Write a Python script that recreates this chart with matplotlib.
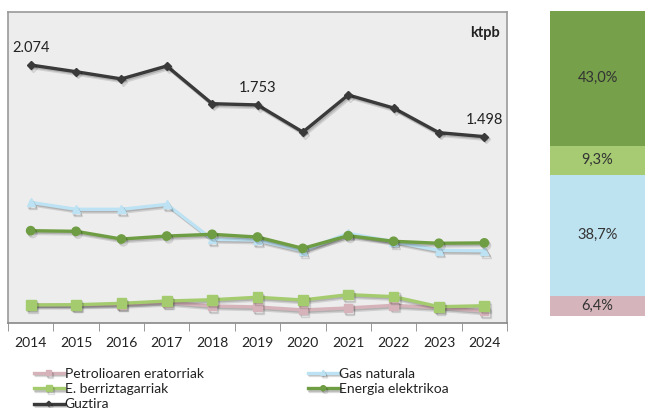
import numpy as np
import matplotlib
matplotlib.use("Agg")
import matplotlib.pyplot as plt
import matplotlib.patheffects as pe

plt.rcParams['font.family'] = ['Lato', 'DejaVu Sans']

years = [2014, 2015, 2016, 2017, 2018, 2019, 2020, 2021, 2022, 2023, 2024]
petrolio = [145, 145, 150, 166, 137, 129, 105, 121, 142, 123, 96]
gas = [970, 914, 914, 954, 673, 667, 581, 721, 654, 584, 580]
berriz = [145, 147, 158, 177, 187, 207, 185, 228, 212, 131, 139]
elektri = [742, 737, 675, 699, 713, 691, 600, 702, 657, 641, 644]
guztira = [2074, 2020, 1962, 2066, 1763, 1753, 1535, 1833, 1728, 1530, 1498]

names = ["Petrolioaren eratorriak", "Gas naturala", "E. berriztagarriak",
         "Energia elektrikoa", "Guztira"]
colors = ["#D6B3BA", "#BCE2F3", "#A4CC6E", "#6F9D43", "#3A3A3A"]
markers = ["s", "^", "s", "o", "D"]
msizes = [6, 6, 7, 6, 4]

# 2024 share (stacked bar)
share_labels = ["6,4%", "38,7%", "9,3%", "43,0%"]
share_vals = [6.4, 38.7, 9.3, 43.0]
share_colors = ["#D5B5BB", "#BDE2F0", "#A6CB72", "#76A04A"]

W, H = 645, 408
fig = plt.figure(figsize=(W / 100, H / 100), dpi=100)

ax = fig.add_axes([8 / W, (H - 323) / H, (507 - 8) / W, (323 - 12) / H])
ax.set_facecolor("#EDEDED")
x = np.arange(len(years))

# soft-ish drop shadow, two passes
shadow = [pe.SimpleLineShadow(offset=(1.5, -2), shadow_color="black", alpha=0.12),
          pe.SimpleLineShadow(offset=(0.8, -1), shadow_color="black", alpha=0.15),
          pe.Normal()]
series = [petrolio, gas, berriz, elektri, guztira]
handles = []
for s, name, c, m, ms in zip(series, names, colors, markers, msizes):
    h, = ax.plot(x, s, color=c, lw=2.4, marker=m, ms=ms, mec=c, label=name,
                 path_effects=shadow)
    handles.append(h)

ax.set_xlim(-0.5, len(years) - 0.5)
ax.set_ylim(0, 2500)
ax.set_yticks([])
ax.set_xticks(x)
ax.set_xticklabels([str(y) for y in years], fontsize=10, color="#222222")
ax.set_xticks(np.arange(-0.5, len(years), 1), minor=True)
ax.tick_params(axis="x", which="major", length=0, pad=10)
ax.tick_params(axis="x", which="minor", length=6, color="#888888", direction="out")
for sp in ["left", "top", "right"]:
    ax.spines[sp].set_color("#9A9A9A")
    ax.spines[sp].set_linewidth(1.2)
ax.spines["bottom"].set_color("#888888")
ax.spines["bottom"].set_linewidth(1.2)

# data labels on total
for i in [0, 5, 10]:
    ax.annotate(f"{guztira[i]:,}".replace(",", "."), (x[i], guztira[i]),
                xytext=(0, 7), textcoords="offset points", ha="center",
                va="bottom", fontsize=10.5, color="#222222")

ax.text(0.985, 0.955, "ktpb", transform=ax.transAxes, ha="right", va="top",
        fontsize=10.5, fontweight="bold", color="#222222")

order = [0, 2, 4, 1, 3]
leg = fig.legend([handles[i] for i in order], [names[i] for i in order],
                 loc="upper left", bbox_to_anchor=(28 / W, 1 - 362 / H), ncol=2,
                 frameon=False, fontsize=10, handlelength=2.2, handletextpad=0.05,
                 columnspacing=7.5, labelspacing=0.25, borderaxespad=0,
                 markerscale=0.6)
for t in leg.get_texts():
    t.set_color("#222222")

# stacked bar on the right
bx = fig.add_axes([550 / W, (H - 316) / H, (W - 550) / W, (316 - 11) / H])
bottom = 0
for v, lab, c in zip(share_vals, share_labels, share_colors):
    bx.bar(0, v, bottom=bottom, width=1, color=c, edgecolor="none")
    bx.text(0, bottom + v / 2, lab, ha="center", va="center", fontsize=10.5,
            color="#333333")
    bottom += v
bx.set_xlim(-0.5, 0.5)
bx.set_ylim(0, bottom)
bx.axis("off")

fig.savefig("out.png", dpi=100)
